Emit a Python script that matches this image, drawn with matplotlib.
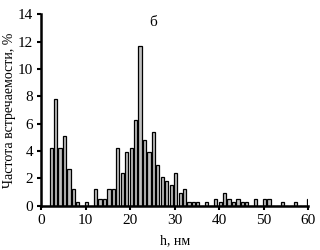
import matplotlib
matplotlib.use("Agg")
import matplotlib.pyplot as plt

h = list(range(2, 61))
freq = [4.2, 7.8, 4.2, 5.1, 2.7, 1.2, 0.25, 0, 0.25, 0, 1.2, 0.5, 0.5, 1.2, 1.2,
        4.2, 2.4, 3.9, 4.2, 6.3, 11.7, 4.8, 3.9, 5.4, 3.0, 2.1, 1.8, 1.5, 2.4,
        0.9, 1.2, 0.25, 0.25, 0.25, 0, 0.25, 0, 0.5, 0.25, 0.9, 0.5, 0.25, 0.5,
        0.25, 0.25, 0, 0.5, 0, 0.5, 0.5, 0, 0, 0.25, 0, 0, 0.25, 0, 0, 0.5]
xticks = [0, 10, 20, 30, 40, 50, 60]
yticks = [0, 2, 4, 6, 8, 10, 12, 14]

plt.rcParams['font.family'] = ['Liberation Serif', 'DejaVu Serif']
fig = plt.figure(figsize=(3.2, 2.5), dpi=100)
ax = fig.add_axes([0.129, 0.177, 0.834, 0.766])
xs = [v - 0.15 for v in h]
ax.bar(xs, freq, width=0.72, align='edge', color='#c0c0c0', edgecolor='black', linewidth=0.9)
ax.set_xlim(0, 60)
ax.set_ylim(0, 14)
ax.set_xticks(xticks)
ax.set_yticks(yticks)
for s in ['top', 'right']:
    ax.spines[s].set_visible(False)
for s in ['left', 'bottom']:
    ax.spines[s].set_linewidth(1.8)
ax.tick_params(axis='both', labelsize=11, width=1.5, length=3, direction='out', pad=3)
ax.set_xlabel('h, нм', fontsize=10, labelpad=5)
fig.text(0.03, 0.56, 'Частота встречаемости, %', fontsize=10, rotation=90,
         ha='center', va='center')
ax.text(25.1, 13.4, 'б', fontsize=11, ha='center', va='center')
fig.savefig('out.png', dpi=100)
